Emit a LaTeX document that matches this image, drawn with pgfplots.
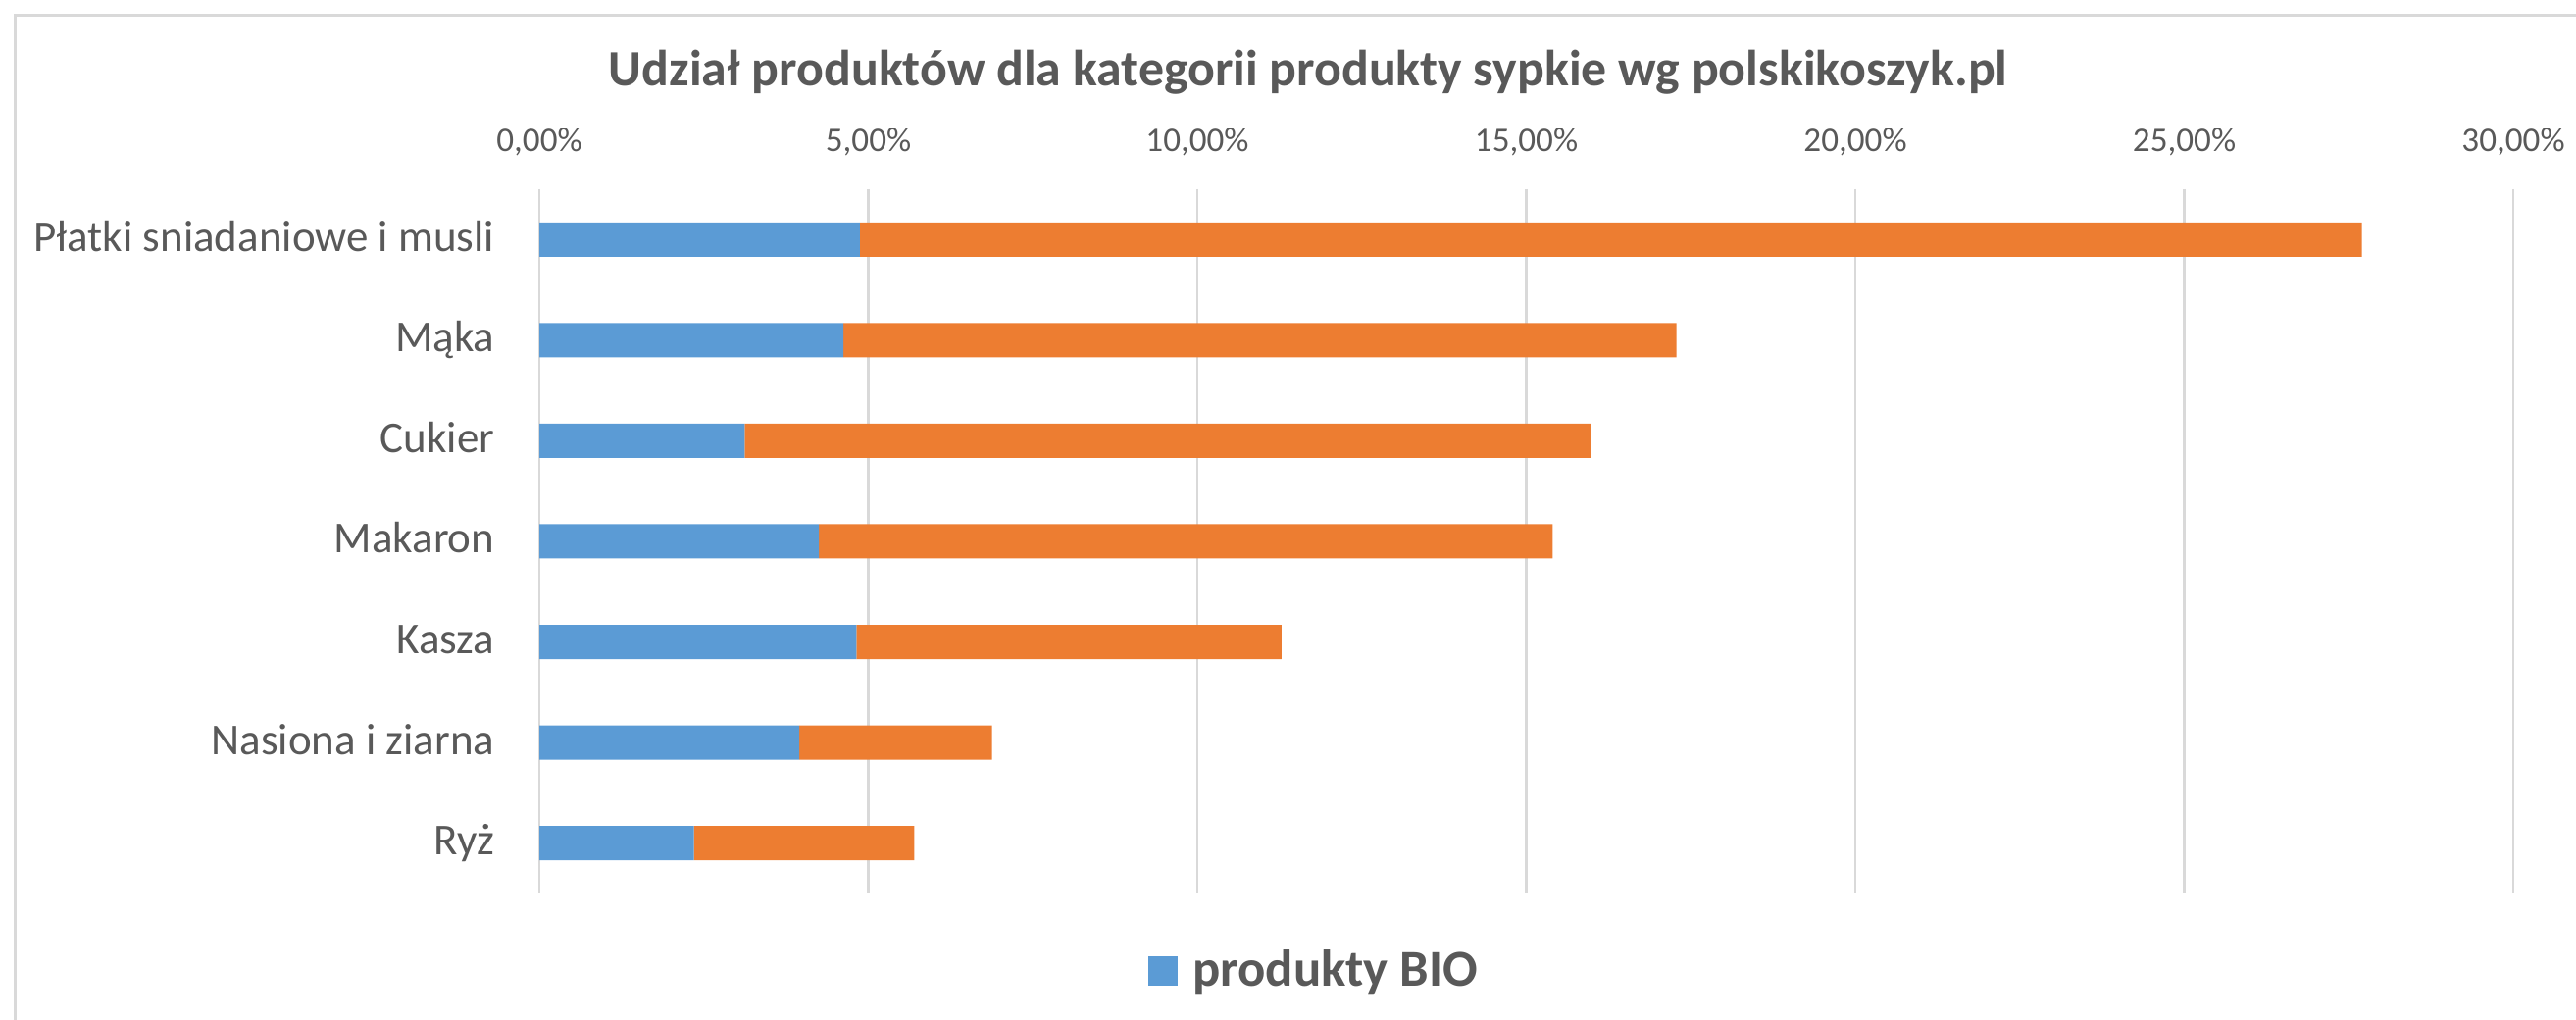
\documentclass[border=0pt]{standalone}
\usepackage{pgfplots}
\pgfplotsset{compat=1.18}
\usepackage{fontspec}
\setmainfont{Carlito}
\definecolor{txt}{HTML}{595959}
\definecolor{grd}{HTML}{D9D9D9}
\definecolor{bio}{HTML}{5B9BD5}
\definecolor{oth}{HTML}{ED7D31}
\begin{document}
\begin{tikzpicture}
\useasboundingbox (0,0) rectangle (262.7mm,104mm);
\draw[grd, line width=0.3mm] (1.55mm,0) -- (1.55mm,102.45mm) -- (262.7mm,102.45mm);
\node[anchor=base, text=txt, inner sep=0pt, font=\fontsize{14.75}{17}\selectfont\bfseries] at (133.4mm,95.2mm) {Udział produktów dla kategorii produkty sypkie wg polskikoszyk.pl};
\begin{axis}[
  at={(55mm,12.9mm)}, anchor=south west, scale only axis,
  width=201.3mm, height=71.8mm,
  xbar stacked, bar width=3.5mm,
  xmin=0, xmax=30, ymin=-0.5, ymax=6.5, y dir=reverse,
  axis line style={draw=none},
  major tick length=0pt,
  xmajorgrids, grid style={grd, line width=0.27mm},
  xtick={0,5,10,15,20,25,30},
  xticklabels={{0,00\%},{5,00\%},{10,00\%},{15,00\%},{20,00\%},{25,00\%},{30,00\%}},
  xticklabel pos=top,
  xticklabel style={anchor=base, yshift=3.8mm, inner sep=0pt, text=txt, font=\fontsize{10}{12}\selectfont},
  ytick={0,1,2,3,4,5,6},
  yticklabels={Płatki sniadaniowe i musli, Mąka, Cukier, Makaron, Kasza, Nasiona i ziarna, Ryż},
  yticklabel style={anchor=base east, inner sep=0pt, xshift=-4.5mm, yshift=-1.2mm, text=txt, font=\fontsize{12.8}{15}\selectfont},
  legend style={at={(0.392,-0.110)}, anchor=center, draw=none, fill=none,
    font=\fontsize{15}{17}\selectfont\bfseries, text=txt,
    nodes={inner sep=0pt},
    /tikz/every odd column/.append style={column sep=1.5mm}},
  legend image code/.code={\fill[#1, draw=none] (0mm,-1.5mm) rectangle (3mm,1.5mm);},
]
\addplot[fill=bio, draw=none] coordinates {(4.87,0) (4.62,1) (3.12,2) (4.25,3) (4.82,4) (3.95,5) (2.35,6)};
\addplot[fill=oth, draw=none] coordinates {(22.83,0) (12.66,1) (12.86,2) (11.15,3) (6.46,4) (2.93,5) (3.35,6)};
\legend{produkty BIO}
\end{axis}
\end{tikzpicture}
\end{document}
